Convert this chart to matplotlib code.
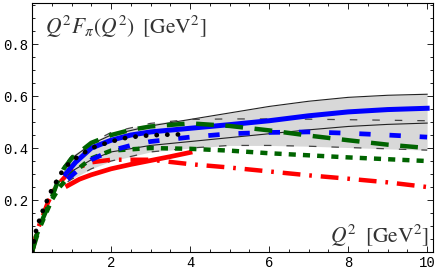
import matplotlib
matplotlib.use('Agg')
import matplotlib.pyplot as plt
from matplotlib.ticker import MultipleLocator

plt.rcParams['mathtext.fontset'] = 'stix'

# uncertainty band A (thin solid borders)
band_a_x = [0.8, 1.0, 1.5, 2.0, 3.0, 4.0, 5.0, 6.0, 7.0, 8.0, 9.0, 10.0]
band_a_hi = [0.33, 0.36, 0.415, 0.45, 0.485, 0.51, 0.535, 0.56, 0.58, 0.595, 0.603, 0.607]
band_a_lo = [0.29, 0.31, 0.355, 0.385, 0.41, 0.425, 0.44, 0.455, 0.47, 0.483, 0.491, 0.496]

# uncertainty band B (thin dashed borders)
band_b_x = [0.9, 1.0, 1.5, 2.0, 3.0, 4.0, 5.0, 6.0, 7.0, 8.0, 9.0, 10.0]
band_b_hi = [0.35, 0.37, 0.42, 0.46, 0.495, 0.51, 0.512, 0.512, 0.511, 0.509, 0.507, 0.505]
band_b_lo = [0.27, 0.28, 0.32, 0.35, 0.385, 0.40, 0.41, 0.41, 0.407, 0.402, 0.397, 0.392]

# blue thick solid
blue_x = [0.85, 1.1, 1.5, 2.0, 2.5, 3.0, 4.0, 5.0, 6.0, 7.0, 8.0, 9.0, 10.0]
blue_y = [0.30, 0.345, 0.40, 0.43, 0.45, 0.462, 0.476, 0.49, 0.505, 0.524, 0.539, 0.548, 0.553]

# blue dashed
blued_x = [0.9, 1.2, 1.5, 2.0, 2.5, 3.0, 4.0, 5.0, 6.0, 7.0, 8.0, 9.0, 10.0]
blued_y = [0.28, 0.32, 0.355, 0.39, 0.41, 0.425, 0.442, 0.455, 0.46, 0.462, 0.457, 0.45, 0.442]

# black dotted
dots_x = [0.0, 0.1, 0.2, 0.3, 0.5, 0.65, 0.8, 1.0, 1.2, 1.4, 1.6, 1.8, 2.0, 2.4, 2.8, 3.3, 3.9]
dots_y = [0.0, 0.08, 0.13, 0.17, 0.24, 0.28, 0.32, 0.35, 0.37, 0.39, 0.405, 0.415, 0.425, 0.44, 0.447, 0.451, 0.453]

# green long dashed
greenl_x = [0.0, 0.1, 0.25, 0.5, 0.65, 0.8, 1.0, 1.5, 2.0, 2.5, 3.0, 4.0, 5.0, 6.0, 7.0, 8.0, 9.0, 10.0]
greenl_y = [0.0, 0.05, 0.12, 0.21, 0.27, 0.32, 0.36, 0.42, 0.45, 0.47, 0.483, 0.495, 0.485, 0.468, 0.448, 0.43, 0.413, 0.40]

# green short dashed
greens_x = [0.0, 0.1, 0.3, 0.5, 0.7, 1.0, 1.5, 2.0, 3.0, 4.0, 5.0, 6.0, 7.0, 8.0, 9.0, 10.0]
greens_y = [0.0, 0.06, 0.13, 0.2, 0.25, 0.30, 0.36, 0.39, 0.40, 0.397, 0.39, 0.38, 0.372, 0.364, 0.357, 0.35]

# red dash-dot
redd_x = [0.0, 0.15, 0.4, 0.6, 0.9, 1.1, 1.5, 2.0, 3.0, 4.0, 5.0, 6.0, 7.0, 8.0, 9.0, 10.0]
redd_y = [0.0, 0.09, 0.19, 0.25, 0.30, 0.32, 0.345, 0.355, 0.355, 0.338, 0.325, 0.31, 0.295, 0.282, 0.268, 0.25]

# red solid
red_x = [0.9, 1.2, 1.5, 2.0, 2.5, 3.0, 3.5, 4.0]
red_y = [0.255, 0.28, 0.297, 0.32, 0.337, 0.352, 0.367, 0.383]

fig = plt.figure(figsize=(4.41, 2.69), dpi=100)
ax = fig.add_axes([0.0726, 0.0632, 0.9094, 0.9256])

gray = '#d8d8d8'
ax.fill_between(band_a_x, band_a_lo, band_a_hi, color=gray, lw=0)
ax.fill_between(band_b_x, band_b_lo, band_b_hi, color=gray, lw=0)
ax.plot(band_a_x, band_a_hi, color='#222222', lw=0.8)
ax.plot(band_a_x, band_a_lo, color='#222222', lw=0.8)
ax.plot(band_b_x, band_b_hi, color='#444444', lw=0.9, ls=(0, (6, 12)))
ax.plot(band_b_x, band_b_lo, color='#444444', lw=0.9, ls=(0, (6, 12)))

ax.plot(redd_x, redd_y, color='red', lw=3.2, ls=(0, (4, 2, 0.6, 2)))
ax.plot(red_x, red_y, color='red', lw=3.4)
ax.plot(greens_x, greens_y, color='#006400', lw=3.2, ls=(0, (1.6, 1.6)))
ax.plot(blued_x, blued_y, color='blue', lw=3.4, ls=(0, (2.4, 4)))
ax.plot(blue_x, blue_y, color='blue', lw=3.6)
ax.plot(greenl_x, greenl_y, color='#006400', lw=3.2, ls=(0, (4, 2.6)))
ax.plot(dots_x, dots_y, color='black', lw=3.4, ls=(0, (0.05, 2.2)), dash_capstyle='round')

ax.set_xlim(0, 10.15)
ax.set_ylim(0, 0.958)
ax.xaxis.set_major_locator(MultipleLocator(2))
ax.xaxis.set_minor_locator(MultipleLocator(0.5))
ax.yaxis.set_major_locator(MultipleLocator(0.2))
ax.yaxis.set_minor_locator(MultipleLocator(0.05))
ax.tick_params(which='both', direction='in', top=True, right=True, width=0.6,
               labelsize=10, pad=3)
ax.tick_params(which='major', length=4)
ax.tick_params(which='minor', length=2)
ax.set_xticks([2, 4, 6, 8, 10])
ax.set_xticklabels(['2', '4', '6', '8', '10'], family='Liberation Mono')
ax.set_yticks([0.2, 0.4, 0.6, 0.8])
ax.set_yticklabels(['0.2', '0.4', '0.6', '0.8'], family='Liberation Mono')
for s in ax.spines.values():
    s.set_linewidth(0.8)

ax.text(0.032, 0.955, r'$Q^2F_\pi(Q^2)\;\;[\mathrm{GeV}^2]$', transform=ax.transAxes,
        fontsize=15.5, color='#333333', va='top', ha='left')
ax.text(0.99, 0.012, r'$Q^2\;\;[\mathrm{GeV}^2]$', transform=ax.transAxes,
        fontsize=15.5, color='#333333', va='bottom', ha='right')

fig.savefig('out.png', dpi=100)
